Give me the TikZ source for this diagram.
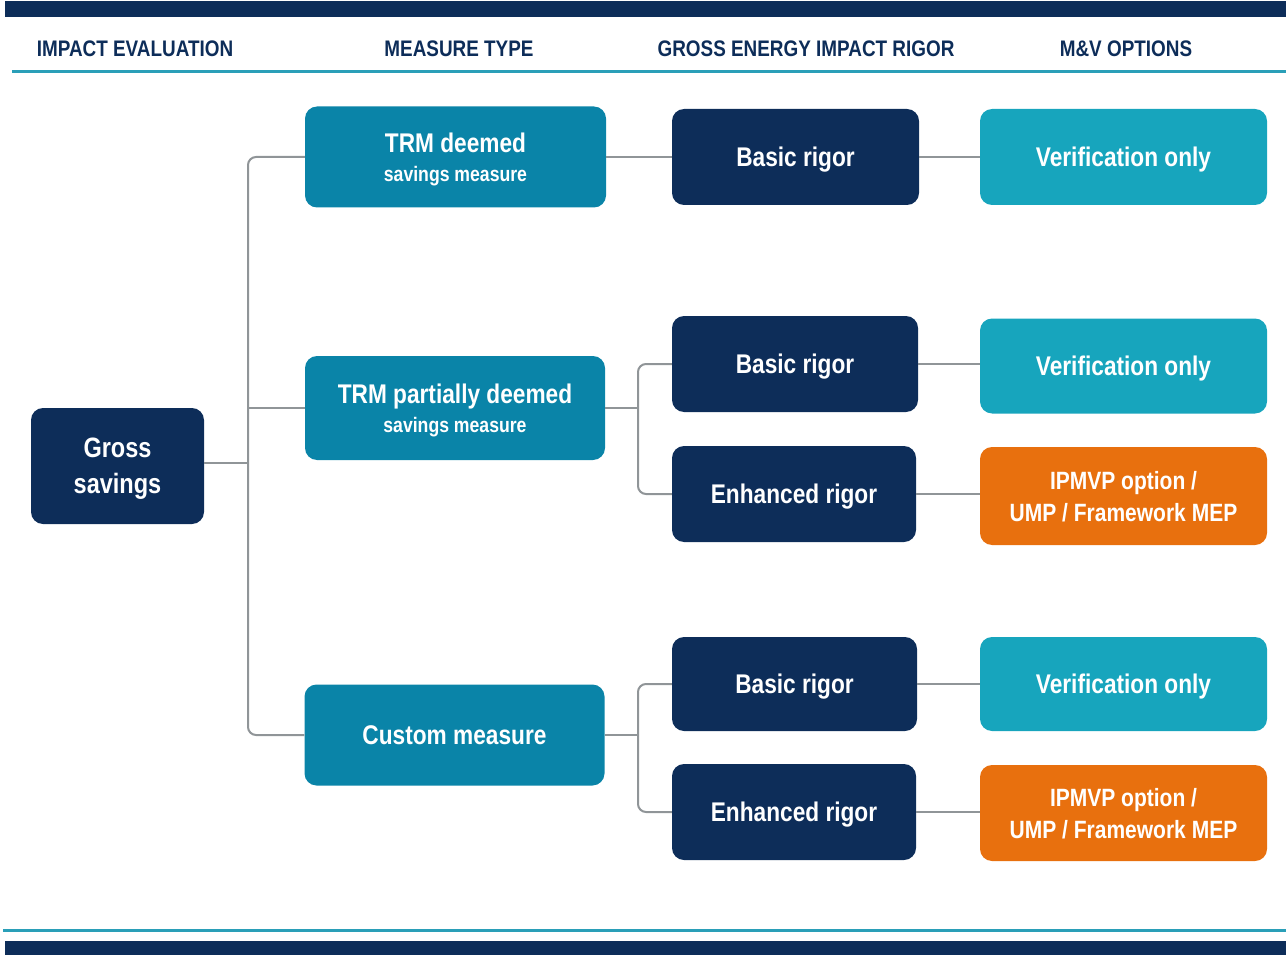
\documentclass[tikz,border=0pt]{standalone}
\usepackage{fontspec}
\setmainfont{Liberation Sans}[FakeStretch=0.84]
\definecolor{navy}{HTML}{0D2D59}
\definecolor{measureteal}{HTML}{0A84A8}
\definecolor{optteal}{HTML}{17A5BD}
\definecolor{mvorange}{HTML}{E8700E}
\definecolor{linkgray}{HTML}{909598}
\definecolor{ruleteal}{HTML}{2A9FB8}
\tikzset{
  box/.style={rounded corners=12pt, inner sep=0pt, align=center, text=white,
    text depth=0pt, font=\bfseries\fontsize{27}{32}\selectfont},
  rootbox/.style={box, fill=navy, font=\bfseries\fontsize{28}{36}\selectfont},
  measurebox/.style={box, fill=measureteal, minimum width=301pt},
  rigorbox/.style={box, fill=navy, minimum width=246pt, minimum height=96pt},
  verifybox/.style={box, fill=optteal, minimum width=287pt, minimum height=96pt},
  mepbox/.style={box, fill=mvorange, minimum width=287pt, minimum height=98pt,
    font=\bfseries\fontsize{25}{32}\selectfont},
  colhead/.style={text=navy, font=\bfseries\fontsize{22.5}{26}\selectfont, inner sep=0pt},
  link/.style={draw=linkgray, line width=2pt, rounded corners=8pt}
}
\newcommand{\sublabel}[1]{{\fontsize{21}{24}\selectfont #1}}
\begin{document}
\begin{tikzpicture}[x=1pt, y=-1pt]
\useasboundingbox (0,0) rectangle (1286,955);

% frame bars and rules
\fill[navy] (5,1) rectangle (1286,17);
\draw[ruleteal, line width=3pt] (12,72) -- (1286,72);
\draw[ruleteal, line width=3pt] (3,930) -- (1286,930);
\fill[navy] (5,941) rectangle (1286,955);

% column headings
\node[colhead] (h1) at (135,49) {IMPACT EVALUATION};
\node[colhead] (h2) at (459,49) {MEASURE TYPE};
\node[colhead] (h3) at (806,49) {GROSS ENERGY IMPACT RIGOR};
\node[colhead] (h4) at (1126,49) {M\&V OPTIONS};

% root
\node[rootbox, minimum width=173pt, minimum height=116pt] (gross) at (117.5,466) {Gross\\savings};

% measure types
\node[measurebox, minimum height=101pt] (trmd) at (455.5,157) {TRM deemed\\[-3pt]\sublabel{savings measure}};
\node[measurebox, minimum height=104pt, minimum width=300pt] (trmp) at (455,408) {TRM partially deemed\\[-3pt]\sublabel{savings measure}};
\node[measurebox, minimum height=101pt, minimum width=300pt] (cust) at (454.5,735) {Custom measure};

% rigor levels
\node[rigorbox, minimum width=247pt] (b1) at (795.5,157) {Basic rigor};
\node[rigorbox] (b2) at (795,364) {Basic rigor};
\node[rigorbox, minimum width=244pt] (e2) at (794,494) {Enhanced rigor};
\node[rigorbox, minimum width=245pt, minimum height=94pt] (b3) at (794.5,684) {Basic rigor};
\node[rigorbox, minimum width=244pt] (e3) at (794,812) {Enhanced rigor};

% M&V options
\node[verifybox] (v1) at (1123.5,157) {Verification only};
\node[verifybox, minimum height=95pt] (v2) at (1123.5,366) {Verification only};
\node[mepbox] (i2) at (1123.5,496) {IPMVP option /\\UMP / Framework MEP};
\node[verifybox, minimum height=94pt] (v3) at (1123.5,684) {Verification only};
\node[mepbox, minimum height=96pt] (i3) at (1123.5,813) {IPMVP option /\\UMP / Framework MEP};

% junction points
\coordinate (j1) at (248,463);
\coordinate (j2) at (638,408);
\coordinate (j3) at (638,735);

% connectors
\draw[link] (gross.east |- j1) -- (j1);
\draw[link] (trmd.west) -| (j1) |- (cust.west);
\draw[link] (j1 |- trmp.west) -- (trmp.west);

\draw[link] (trmd.east) -- (b1.west);
\draw[link] (trmp.east) -- (j2);
\draw[link] (b2.west) -| (j2) |- (e2.west);
\draw[link] (cust.east) -- (j3);
\draw[link] (b3.west) -| (j3) |- (e3.west);

\draw[link] (b1.east) -- (v1.west);
\draw[link] (b2.east) -- (b2.east -| v2.west);
\draw[link] (e2.east) -- (e2.east -| i2.west);
\draw[link] (b3.east) -- (v3.west);
\draw[link] (e3.east) -- (e3.east -| i3.west);
\end{tikzpicture}
\end{document}
